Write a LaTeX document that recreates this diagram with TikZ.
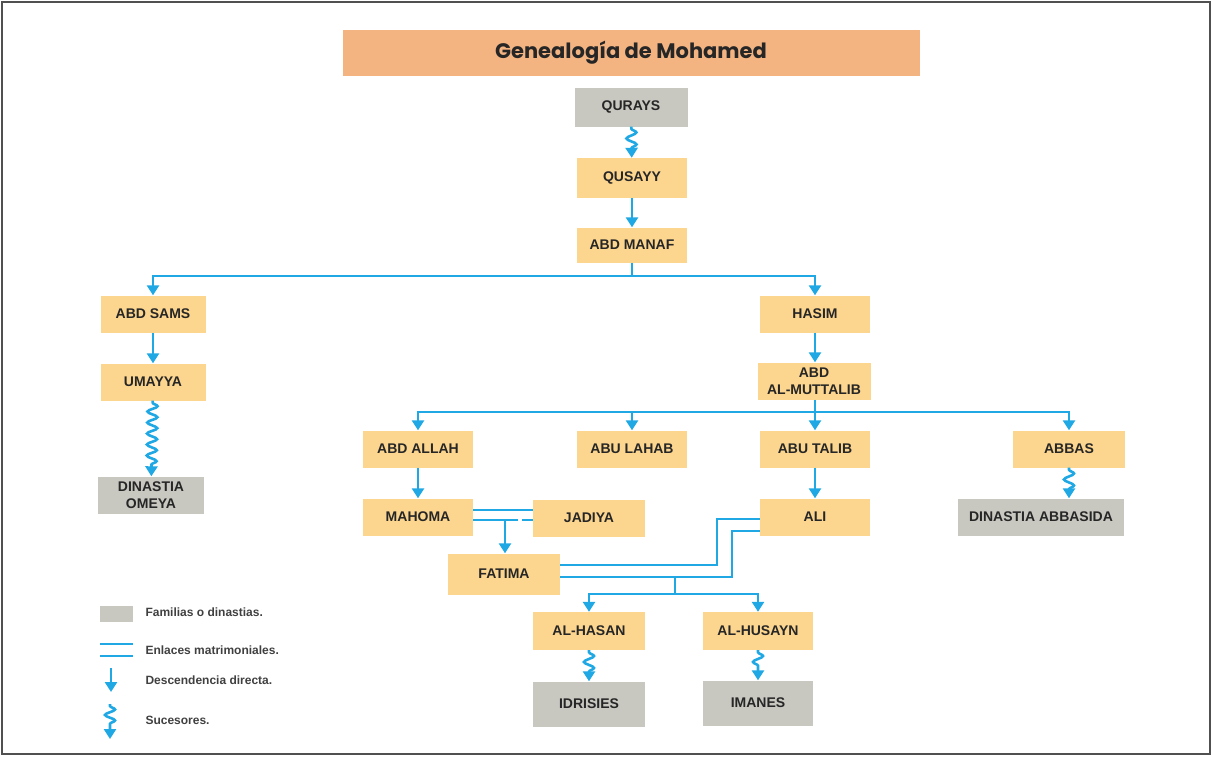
\documentclass[tikz,border=0pt]{standalone}
\usepackage{fontspec}
\setmainfont{Liberation Sans}
\newfontfamily\titlefont{Poppins}
\usetikzlibrary{arrows.meta,decorations.pathmorphing}
\definecolor{boxorange}{RGB}{252,213,142}
\definecolor{famgray}{RGB}{200,199,192}
\definecolor{titlebg}{RGB}{244,180,130}
\definecolor{linkblue}{RGB}{32,168,228}
\definecolor{framegray}{RGB}{80,80,80}

\begin{document}
\begin{tikzpicture}[x=1pt,y=-1pt,
    person/.style={fill=boxorange, minimum width=110pt, minimum height=37pt, inner sep=0pt,
      font=\bfseries\fontsize{14}{17}\selectfont, text=black!85, align=center},
    family/.style={person, fill=famgray},
    link/.style={draw=linkblue, line width=2.6pt},
    desc/.style={link, -{Triangle[width=12pt,length=10pt]}},
    heirs/.style={desc, decorate, decoration={snake, amplitude=5pt, segment length=12pt,
      pre length=2pt, post length=9pt}},
    keytext/.style={anchor=west, font=\bfseries\fontsize{12}{14}\selectfont, text=black!75}]
    % Same Bounding Box
    \useasboundingbox (0,0) rectangle (1212,756);
    \draw[framegray, line width=1.5pt] (2,2) rectangle (1210,754);

    % Title
    \node[fill=titlebg, minimum width=577pt, minimum height=46pt, inner sep=0pt,
      font=\titlefont\bfseries\fontsize{21}{24}\selectfont, text=black!85] (title) at (631,53) {Genealogía de Mohamed};

    % Boxes
    \node[family, minimum width=113pt, minimum height=39pt] (qurays) at (631,107) {QURAYS};
    \node[person, minimum height=40pt] (qusayy) at (632,178) {QUSAYY};
    \node[person, minimum height=35pt] (abdmanaf) at (632,245) {ABD MANAF};
    \node[person, minimum width=105pt] (abdsams) at (153,314) {ABD SAMS};
    \node[person, minimum width=105pt] (umayya) at (153,382) {UMAYYA};
    \node[family, minimum width=106pt] (omeya) at (151,495) {DINASTIA\\OMEYA};
    \node[person] (hasim) at (815,314) {HASIM};
    \node[person, minimum width=113pt] (muttalib) at (814,381) {ABD\\AL-MUTTALIB};
    \node[person] (abdallah) at (418,449) {ABD ALLAH};
    \node[person] (abulahab) at (632,449) {ABU LAHAB};
    \node[person] (abutalib) at (815,449) {ABU TALIB};
    \node[person, minimum width=112pt] (abbas) at (1069,449) {ABBAS};
    \node[family, minimum width=166pt] (abbasida) at (1041,517) {DINASTIA ABBASIDA};
    \node[person] (mahoma) at (418,517) {MAHOMA};
    \node[person, minimum width=112pt] (jadiya) at (589,518) {JADIYA};
    \node[person] (ali) at (815,517) {ALI};
    \node[person, minimum width=112pt, minimum height=41pt] (fatima) at (504,574) {FATIMA};
    \node[person, minimum width=112pt, minimum height=38pt] (hasan) at (589,631) {AL-HASAN};
    \node[person, minimum height=38pt] (husayn) at (758,631) {AL-HUSAYN};
    \node[family, minimum width=112pt, minimum height=45pt] (idrisies) at (589,704) {IDRISIES};
    \node[family, minimum height=45pt] (imanes) at (758,703) {IMANES};

    % Descent
    \coordinate (split1) at (632,276);
    \coordinate (split2) at (815,412);
    \coordinate (m1) at (505,520);
    \coordinate (split3) at (675,577);
    \coordinate (split4) at (675,594);

    \draw[heirs] (qurays) -- (qusayy);
    \draw[desc] (qusayy) -- (abdmanaf);
    \draw[link] (abdmanaf) -- (split1);
    \draw[desc] (split1) -| (abdsams.north);
    \draw[desc] (split1) -| (hasim.north);
    \draw[desc] (abdsams) -- (umayya);
    \draw[heirs, decoration={amplitude=5pt, segment length=11pt}] (umayya) -- (omeya);
    \draw[desc] (hasim) -- (hasim |- muttalib.north);
    \draw[link] (muttalib.south -| split2) -- (split2);
    \draw[desc] (split2) -| (abdallah.north);
    \draw[desc] (split2) -| (abulahab.north);
    \draw[desc] (split2) -- (abutalib.north);
    \draw[desc] (split2) -| (abbas.north);
    \draw[desc] (abdallah) -- (mahoma);
    \draw[desc] (abutalib) -- (ali);
    \draw[heirs] (abbas.south) -- (abbas.south |- abbasida.north);

    % Marriages
    \draw[link, line width=2.2pt] (mahoma.east |- 0,510) -- (jadiya.west |- 0,510);
    \draw[link, line width=2.2pt] (mahoma.east |- 0,520) -- (518,520);
    \draw[link, line width=2.2pt] (522,520) -- (jadiya.west |- 0,520);
    \draw[desc] (m1) -- (m1 |- fatima.north);
    \draw[link, line width=2.2pt] (fatima.east |- 0,565) -| (717,540) |- (ali.west |- 0,519);
    \draw[link, line width=2.2pt] (fatima.east |- 0,577) -| (732,550) |- (ali.west |- 0,531);
    \draw[link] (split3) -- (split4);
    \draw[desc] (split4) -| (hasan.north);
    \draw[desc] (split4) -| (husayn.north);
    \draw[heirs] (hasan) -- (idrisies);
    \draw[heirs] (husayn) -- (imanes);

    % Key
    \fill[famgray] (100,606) rectangle (133,622);
    \node[keytext] (k1) at (142,612) {Familias o dinastias.};
    \draw[link, line width=2.2pt] (100,644) -- (133,644);
    \draw[link, line width=2.2pt] (100,656) -- (133,656);
    \node[keytext] (k2) at (142,650) {Enlaces matrimoniales.};
    \draw[desc] (111,668) -- (111,692);
    \node[keytext] (k3) at (142,680) {Descendencia directa.};
    \draw[heirs, decoration={amplitude=5pt, segment length=11pt, post length=10pt}] (110,704) -- (110,739);
    \node[keytext] (k4) at (142,720) {Sucesores.};
\end{tikzpicture}
\end{document}
